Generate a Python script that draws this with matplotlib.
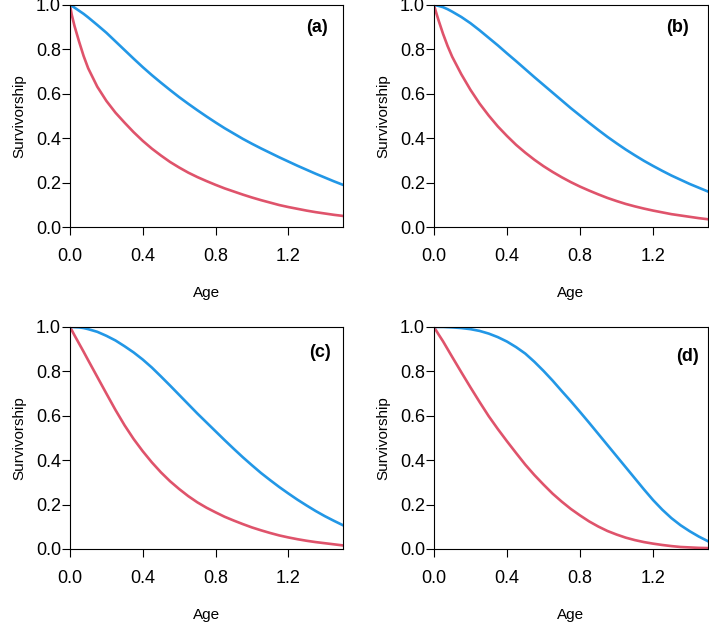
import numpy as np
import matplotlib
matplotlib.use('Agg')
import matplotlib.pyplot as plt

plt.rcParams['font.family'] = ['Liberation Sans', 'DejaVu Sans']

age = [0, 0.01, 0.025, 0.05, 0.075, 0.1, 0.15, 0.2, 0.25, 0.3, 0.35, 0.4, 0.45,
       0.5, 0.55, 0.6, 0.65, 0.7, 0.75, 0.8, 0.85, 0.9, 0.95, 1.0, 1.05, 1.1,
       1.15, 1.2, 1.25, 1.3, 1.35, 1.4, 1.45, 1.5]

# Survivorship, red and blue curves for each panel
red_a = [1.0, 0.955, 0.905, 0.835, 0.77, 0.715, 0.632, 0.568, 0.515, 0.47, 0.427,
         0.388, 0.353, 0.322, 0.293, 0.268, 0.245, 0.225, 0.207, 0.19, 0.174, 0.16,
         0.146, 0.133, 0.121, 0.11, 0.099, 0.09, 0.082, 0.074, 0.067, 0.061, 0.055, 0.05]
blue_a = [1.0, 0.996, 0.988, 0.974, 0.96, 0.944, 0.91, 0.875, 0.836, 0.797, 0.758,
          0.72, 0.684, 0.65, 0.617, 0.585, 0.555, 0.526, 0.498, 0.471, 0.445, 0.421,
          0.397, 0.375, 0.354, 0.334, 0.314, 0.295, 0.276, 0.258, 0.24, 0.223, 0.206, 0.19]

red_b = [1.0, 0.972, 0.932, 0.87, 0.815, 0.767, 0.688, 0.618, 0.556, 0.502, 0.453,
         0.41, 0.37, 0.335, 0.303, 0.274, 0.248, 0.224, 0.202, 0.182, 0.164, 0.147,
         0.131, 0.117, 0.104, 0.093, 0.083, 0.074, 0.066, 0.058, 0.052, 0.046, 0.04, 0.035]
blue_b = [1.0, 0.999, 0.996, 0.99, 0.981, 0.97, 0.946, 0.918, 0.886, 0.852, 0.818,
          0.782, 0.747, 0.711, 0.675, 0.64, 0.605, 0.57, 0.535, 0.502, 0.469, 0.437,
          0.406, 0.377, 0.349, 0.323, 0.298, 0.275, 0.253, 0.232, 0.213, 0.194, 0.177, 0.16]

red_c = [1.0, 0.985, 0.962, 0.925, 0.888, 0.85, 0.775, 0.7, 0.626, 0.557, 0.495,
         0.44, 0.39, 0.345, 0.305, 0.27, 0.238, 0.21, 0.186, 0.165, 0.145, 0.128,
         0.112, 0.097, 0.084, 0.072, 0.061, 0.052, 0.044, 0.037, 0.031, 0.026, 0.021, 0.016]
blue_c = [1.0, 1.0, 0.999, 0.998, 0.995, 0.99, 0.978, 0.96, 0.939, 0.913, 0.885,
          0.853, 0.817, 0.777, 0.736, 0.694, 0.652, 0.61, 0.57, 0.53, 0.49, 0.451,
          0.413, 0.377, 0.342, 0.31, 0.279, 0.25, 0.222, 0.196, 0.171, 0.148, 0.127, 0.107]

red_d = [1.0, 0.987, 0.967, 0.935, 0.9, 0.865, 0.796, 0.728, 0.662, 0.598, 0.54,
         0.485, 0.432, 0.38, 0.333, 0.29, 0.249, 0.213, 0.18, 0.151, 0.124, 0.101,
         0.081, 0.065, 0.051, 0.04, 0.031, 0.024, 0.018, 0.013, 0.009, 0.007, 0.005, 0.004]
blue_d = [1.0, 1.0, 1.0, 1.0, 0.999, 0.998, 0.995, 0.99, 0.982, 0.97, 0.954,
          0.934, 0.909, 0.88, 0.843, 0.802, 0.758, 0.711, 0.665, 0.617, 0.568, 0.518,
          0.468, 0.418, 0.368, 0.318, 0.268, 0.22, 0.177, 0.139, 0.107, 0.08, 0.056, 0.035]

panels = ['(a)', '(b)', '(c)', '(d)']
reds = [red_a, red_b, red_c, red_d]
blues = [blue_a, blue_b, blue_c, blue_d]

x_ticks = [0.0, 0.4, 0.8, 1.2]
y_ticks = [0.0, 0.2, 0.4, 0.6, 0.8, 1.0]

# axes rectangles (left, bottom, width, height) in figure fractions
rects = [[0.0987, 0.635, 0.385, 0.357],
         [0.612, 0.635, 0.3865, 0.357],
         [0.0987, 0.1174, 0.385, 0.357],
         [0.612, 0.1174, 0.3865, 0.357]]
label_pos = [(0.905, 0.90), (0.889, 0.90), (0.916, 0.883), (0.926, 0.868)]

fig = plt.figure(figsize=(7.09, 6.22), dpi=100)

for i in range(4):
    ax = fig.add_axes(rects[i])
    ax.plot(age, reds[i], color='#DF536B', lw=1.9)
    ax.plot(age, blues[i], color='#2297E6', lw=1.9)
    ax.set_xlim(0, 1.5)
    ax.set_ylim(0, 1.0)
    ax.set_xticks(x_ticks)
    ax.set_xticklabels(['%.1f' % v for v in x_ticks])
    ax.set_yticks(y_ticks)
    ax.set_yticklabels(['%.1f' % v for v in y_ticks])
    ax.tick_params(axis='both', direction='out', length=5.5, width=0.8,
                   labelsize=13)
    ax.tick_params(axis='x', pad=9.5)
    ax.tick_params(axis='y', pad=1)
    for s in ax.spines.values():
        s.set_linewidth(0.8)
    ax.set_xlabel('Age', fontsize=11, labelpad=15)
    ax.set_ylabel('Survivorship', fontsize=11, labelpad=7)
    ax.text(label_pos[i][0], label_pos[i][1], panels[i], transform=ax.transAxes,
            ha='center', va='center', fontsize=13, fontweight='bold')

fig.savefig('out.png', dpi=100)
